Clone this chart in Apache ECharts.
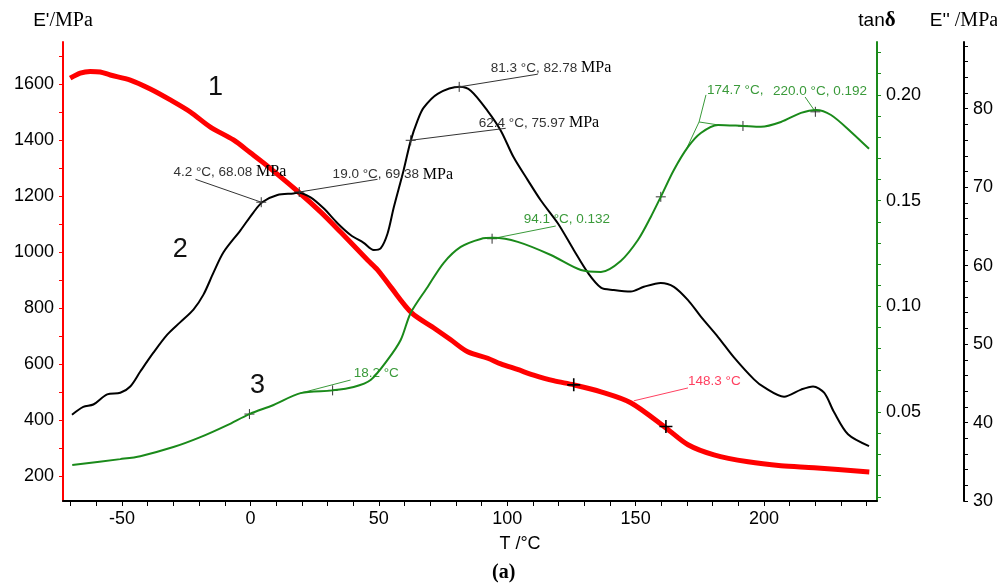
<!DOCTYPE html>
<html>
<head>
<meta charset="utf-8">
<script src="https://cdn.jsdelivr.net/npm/echarts@6/dist/echarts.min.js"></script>
<style>
  html, body { margin: 0; background: #fff; }
  #chart { width: 997px; height: 584px; }
</style>
</head>
<body>
<div id="chart"></div>
<script>
// curve 1 - storage modulus E' (left axis)
const tempE1 = [-70.2, -66.3, -62.4, -58.5, -54.6, -46.8, -39.0, -31.2, -23.4, -15.6, -6.6, 0, 5.1, 18.7, 27.3, 35.1, 45.6, 49.5, 54.6, 62.8, 71.3, 78.0, 84.6, 92.4, 97.5, 104.0, 110.3, 118.0, 125.9, 136.5, 148.1, 161.8, 170.4, 180.5, 193.8, 206.6, 219.5, 241.0]
const storageMod = [1621, 1639, 1645, 1643, 1632, 1614, 1582, 1543, 1500, 1446, 1400, 1354, 1318, 1214, 1143, 1071, 971, 936, 875, 782, 729, 686, 643, 620, 600, 580, 560, 540, 525, 500, 461, 371, 311, 275, 250, 236, 229, 214]

// curve 2 - loss modulus E'' (far right axis)
const tempE2 = [-69.5, -65.1, -61.2, -55.8, -50.7, -46.8, -42.9, -37.8, -32.4, -27.3, -22.2, -18.3, -14.4, -10.5, -3.9, 1.2, 4.7, 10.5, 16.8, 18.7, 23.4, 28.5, 33.9, 39.0, 44.1, 48.0, 50.7, 53.4, 55.8, 59.6, 62.4, 65.1, 67.4, 72.9, 81.5, 85.8, 92.4, 97.5, 102.5, 108.0, 113.1, 119.7, 125.9, 131.4, 136.5, 141.5, 148.1, 153.2, 159.8, 164.9, 170.4, 175.4, 182.1, 188.3, 196.1, 200.0, 207.8, 214.4, 219.1, 223.4, 227.3, 232.7, 240.9]
const lossMod = [41.0, 42.0, 42.3, 43.6, 43.8, 44.6, 46.5, 48.9, 51.2, 52.8, 54.4, 56.3, 59.1, 61.7, 64.5, 66.8, 68.1, 69.0, 69.2, 69.3, 68.7, 67.3, 65.4, 63.9, 62.9, 62.0, 62.2, 64.1, 67.4, 72.1, 75.9, 78.5, 80.1, 81.9, 82.8, 82.3, 79.7, 77.2, 73.8, 70.9, 68.3, 65.4, 62.0, 59.1, 57.2, 56.9, 56.7, 57.3, 57.8, 57.3, 55.6, 53.5, 50.9, 48.3, 45.5, 44.5, 43.3, 44.2, 44.6, 43.8, 41.3, 38.5, 37.0]

// curve 3 - tan delta (green axis)
const tempTan = [-69.4, -50.7, -42.9, -30.0, -19.5, -9.0, -0.4, 9.0, 19.5, 32.0, 40.2, 46.8, 53.4, 58.5, 62.4, 69.0, 75.2, 81.9, 89.7, 94.7, 104.1, 117.0, 128.7, 136.5, 144.2, 150.9, 155.9, 159.8, 164.9, 170.4, 175.4, 182.1, 191.8, 198.8, 206.6, 214.4, 220.3, 226.1, 233.9, 240.9]
const tanDelta = [0.0250, 0.0278, 0.0292, 0.0335, 0.0382, 0.0439, 0.0491, 0.0534, 0.0590, 0.0603, 0.0619, 0.0652, 0.0747, 0.0841, 0.0969, 0.1092, 0.1205, 0.1281, 0.1319, 0.1324, 0.1305, 0.1243, 0.1172, 0.1163, 0.1215, 0.1314, 0.1423, 0.1518, 0.1645, 0.1754, 0.1820, 0.1858, 0.1853, 0.1849, 0.1872, 0.1915, 0.1929, 0.1905, 0.1825, 0.1745]

// tick labels
const tempLabels = [-50, 0, 50, 100, 150, 200]
const tempTicks = [-70, -60, -50, -40, -30, -20, -10, 0, 10, 20, 30, 40, 50, 60, 70, 80, 90, 100, 110, 120, 130, 140, 150, 160, 170, 180, 190, 200, 210, 220, 230, 240]
const e1Labels = [200, 400, 600, 800, 1000, 1200, 1400, 1600]
const e1Ticks = [200, 300, 400, 500, 600, 700, 800, 900, 1000, 1100, 1200, 1300, 1400, 1500, 1600, 1700]
const tanLabels = [0.05, 0.10, 0.15, 0.20]
const tanTicks = [0.01, 0.02, 0.03, 0.04, 0.05, 0.06, 0.07, 0.08, 0.09, 0.10, 0.11, 0.12, 0.13, 0.14, 0.15, 0.16, 0.17, 0.18, 0.19, 0.20, 0.21, 0.22]
const e2Labels = [30, 40, 50, 60, 70, 80]
const e2Ticks = [30, 32, 34, 36, 38, 40, 42, 44, 46, 48, 50, 52, 54, 56, 58, 60, 62, 64, 66, 68, 70, 72, 74, 76, 78, 80, 82, 84, 86, 88]

// marked points (+) and annotations
const e1Marks = [[125.9, 525], [161.8, 376]]
const e2Marks = [[4.2, 68.08], [19.0, 69.38], [62.4, 75.97], [81.3, 82.78]]
const tanMarks = [[-0.4, 0.0491], [32.0, 0.0603], [94.1, 0.132], [159.8, 0.1518], [191.8, 0.1853], [220.0, 0.192]]

const e1Notes = [
  { text: '148.3 °C', at: [170.4, 536], line: [[149.3, 468], [170.4, 514]] }
]
const e2Notes = [
  { text: '{s|4.2 °C, 68.08 }{m|MPa}', at: [-30.0, 71.9], line: [[4.2, 68.08], [-21.4, 71.0]] },
  { text: '{s|19.0 °C, 69.38 }{m|MPa}', at: [32.0, 71.6], line: [[19.0, 69.38], [49.5, 71.0]] },
  { text: '{s|81.3 °C, 82.78 }{m|MPa}', at: [93.6, 85.2], line: [[81.3, 82.78], [111.9, 84.4]] },
  { text: '{s|62.4 °C, 75.97 }{m|MPa}', at: [88.9, 78.2], line: [[62.4, 75.97], [99.4, 77.5]] }
]
const tanNotes = [
  { text: '94.1 °C, 0.132', at: [106.4, 0.1413], line: [[94.1, 0.132], [118.9, 0.138]] },
  { text: '18.2 °C', at: [40.2, 0.0685], line: [[19.5, 0.059], [39.0, 0.0652]] },
  { text: '174.7 °C,', at: [177.8, 0.2024], line: [[174.7, 0.1872], [177.4, 0.200]] },
  { text: '', at: null, line: [[174.7, 0.1872], [170.0, 0.175]] },
  { text: '', at: null, line: [[174.7, 0.1872], [182.1, 0.1858]] },
  { text: '220.0 °C, 0.192', at: [203.5, 0.2019], line: [[220.0, 0.192], [216.0, 0.199]] }
]

// curve numbers
const curveNames = { e1: ['1', [-13.6, 1589]], e2: ['2', [-27.3, 62.0]], tan: ['3', [2.7, 0.0628]] }

const sans = 'Liberation Sans, Arial, sans-serif'
const serif = 'Liberation Serif, Times New Roman, serif'

function pairs (xs, ys) {
  return xs.map((x, i) => [x, ys[i]])
}

function crosses (pts, color, size, width) {
  return pts.map(p => ({
    coord: p,
    symbol: 'path://M0,5L10,5M5,0L5,10',
    symbolSize: size,
    itemStyle: { color: 'none', borderColor: color, borderWidth: width },
    label: { show: false }
  }))
}

function noteLabels (notes, color) {
  return notes.filter(n => n.at).map(n => ({
    coord: n.at,
    symbol: 'circle',
    symbolSize: 0,
    label: {
      show: true,
      position: 'right',
      distance: 0,
      formatter: n.text,
      color: color,
      fontFamily: sans,
      fontSize: 13.5,
      rich: {
        s: { color: color, fontFamily: sans, fontSize: 13.5 },
        m: { color: '#000', fontFamily: serif, fontSize: 16 }
      }
    }
  }))
}

function bigNumber (item) {
  return {
    coord: item[1],
    symbol: 'circle',
    symbolSize: 0,
    label: { show: true, position: 'inside', formatter: item[0], color: '#111', fontFamily: sans, fontSize: 27 }
  }
}

function leaderLines (notes, color) {
  return {
    silent: true,
    symbol: ['none', 'none'],
    label: { show: false },
    lineStyle: { color: color, width: 1, type: 'solid' },
    emphasis: { disabled: true },
    data: notes.map(n => [{ coord: n.line[0] }, { coord: n.line[1] }])
  }
}

function yAxisBase (name, color, labels, ticks, fmt) {
  return {
    type: 'value',
    name: name,
    nameLocation: 'end',
    nameGap: 11,
    splitLine: { show: false },
    axisLine: { show: true, onZero: false, lineStyle: { color: color, width: 2 } },
    axisTick: { show: true, length: 4, customValues: ticks, lineStyle: { color: color, width: 1 } },
    axisLabel: { customValues: labels, color: '#000', fontFamily: sans, fontSize: 18, margin: 9, formatter: fmt }
  }
}

const chart = echarts.init(document.getElementById('chart'))

const leftAxis = yAxisBase("{a|E'}{b|/MPa}", '#ff0000', e1Labels, e1Ticks, v => String(v))
leftAxis.min = 110
leftAxis.max = 1750
leftAxis.nameTextStyle = {
  rich: { a: { fontFamily: sans, fontSize: 19, color: '#000' }, b: { fontFamily: serif, fontSize: 20, color: '#000' } }
}

const tanAxis = yAxisBase('{a|tan}{b|δ}', '#1a8a1a', tanLabels, tanTicks, v => v.toFixed(2))
tanAxis.position = 'right'
tanAxis.min = 0.008
tanAxis.max = 0.225
tanAxis.nameTextStyle = {
  rich: { a: { fontFamily: sans, fontSize: 19, color: '#000' }, b: { fontFamily: serif, fontSize: 21, fontWeight: 'bold', color: '#000' } }
}

const e2Axis = yAxisBase("{a|E''}{b| /MPa}", '#000', e2Labels, e2Ticks, v => String(v))
e2Axis.position = 'right'
e2Axis.offset = 87
e2Axis.min = 30
e2Axis.max = 88.5
e2Axis.nameTextStyle = {
  rich: { a: { fontFamily: sans, fontSize: 19, color: '#000' }, b: { fontFamily: serif, fontSize: 20, color: '#000' } }
}

chart.setOption({
  animation: false,
  backgroundColor: '#fff',
  title: {
    text: '(a)',
    left: 487,
    top: 558,
    textStyle: { fontFamily: serif, fontSize: 20, fontWeight: 'bold', color: '#000' }
  },
  grid: { left: 63, right: 120, top: 42, bottom: 83, outerBoundsMode: 'none' },
  xAxis: {
    type: 'value',
    min: -73,
    max: 244,
    name: 'T /°C',
    nameLocation: 'middle',
    nameGap: 34,
    nameTextStyle: { fontFamily: sans, fontSize: 18, color: '#000', padding: [0, 0, 0, 100] },
    splitLine: { show: false },
    axisLine: { onZero: false, lineStyle: { color: '#000', width: 2 } },
    axisTick: { show: true, length: 5, customValues: tempTicks, lineStyle: { color: '#000', width: 1 } },
    axisLabel: { customValues: tempLabels, color: '#000', fontFamily: sans, fontSize: 18, margin: 9 }
  },
  yAxis: [leftAxis, tanAxis, e2Axis],
  series: [
    {
      name: "E'",
      type: 'line',
      yAxisIndex: 0,
      data: pairs(tempE1, storageMod),
      smooth: 0.3,
      showSymbol: false,
      lineStyle: { color: '#ff0000', width: 5 },
      z: 3,
      markPoint: {
        silent: true,
        data: crosses(e1Marks, '#000', 13, 1.6).concat(noteLabels(e1Notes, '#ff4060')).concat([bigNumber(curveNames.e1)])
      },
      markLine: leaderLines(e1Notes, '#ff4060')
    },
    {
      name: "E''",
      type: 'line',
      yAxisIndex: 2,
      data: pairs(tempE2, lossMod),
      smooth: 0.3,
      showSymbol: false,
      lineStyle: { color: '#000', width: 2 },
      z: 4,
      markPoint: {
        silent: true,
        data: crosses(e2Marks, '#333', 10, 1).concat(noteLabels(e2Notes, '#333')).concat([bigNumber(curveNames.e2)])
      },
      markLine: leaderLines(e2Notes, '#333')
    },
    {
      name: 'tanδ',
      type: 'line',
      yAxisIndex: 1,
      data: pairs(tempTan, tanDelta),
      smooth: 0.3,
      showSymbol: false,
      lineStyle: { color: '#1a8a1a', width: 2 },
      z: 5,
      markPoint: {
        silent: true,
        data: crosses(tanMarks, '#333', 10, 1).concat(noteLabels(tanNotes, '#3a9a3a')).concat([bigNumber(curveNames.tan)])
      },
      markLine: leaderLines(tanNotes, '#3a9a3a')
    }
  ]
})
</script>
</body>
</html>
